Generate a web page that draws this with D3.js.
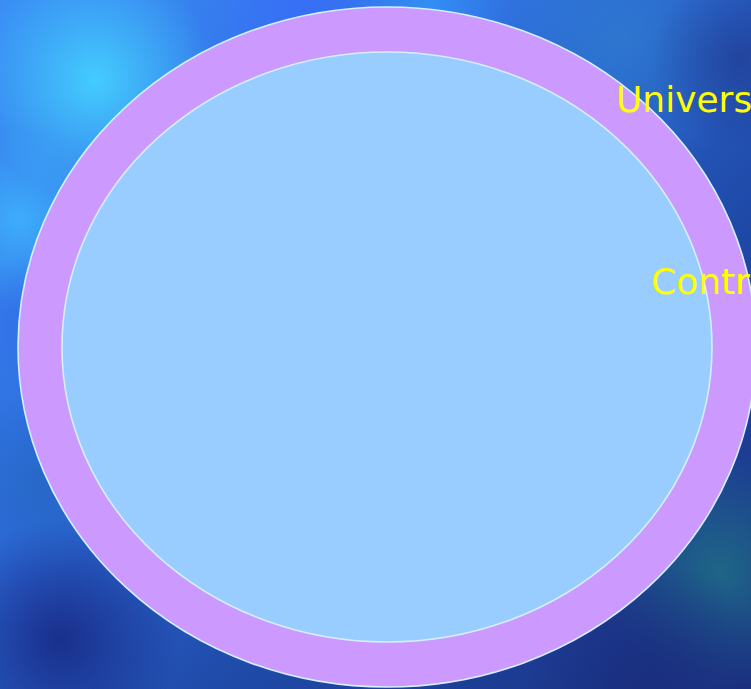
<!DOCTYPE html>
<html>
<head>
<meta charset="utf-8">
<script src="https://cdn.jsdelivr.net/npm/d3@7"></script>
<style>
html,body{margin:0;padding:0;overflow:hidden;background:#1e3a8a;}
svg{display:block;}
</style>
</head>
<body>
<script>
// Nested sets, outermost first
const labels = ["Universe", "Control"];
const levels = [0, 1];
const ringColors = ["#CC99FF", "#99CCFF"];

const W = 751, H = 689;
const svg = d3.select("body").append("svg").attr("width", W).attr("height", H);
const defs = svg.append("defs");

// background texture via layered radial gradients
defs.append("linearGradient").attr("id","bgBase").attr("x1","0").attr("y1","0").attr("x2","1").attr("y2","1")
  .selectAll("stop").data([["0","#3a8ef5"],["0.35","#2f6fe0"],["0.65","#1f4aa8"],["1","#1a2f80"]])
  .join("stop").attr("offset",d=>d[0]).attr("stop-color",d=>d[1]);
svg.append("rect").attr("width",W).attr("height",H).attr("fill","url(#bgBase)");

const blobs = [
  {id:"b1", cx:95, cy:80, r:120, c:"#45d0ff", o:0.95},
  {id:"b2", cx:20, cy:220, r:90, c:"#40b8ff", o:0.8},
  {id:"b3", cx:300, cy:10, r:120, c:"#3a66ff", o:0.6},
  {id:"b4", cx:430, cy:5, r:80, c:"#35a0ff", o:0.6},
  {id:"b5", cx:620, cy:40, r:140, c:"#2f7ed0", o:0.7},
  {id:"b6", cx:740, cy:60, r:90, c:"#213f96", o:0.8},
  {id:"b7", cx:720, cy:570, r:120, c:"#1f6e86", o:0.85},
  {id:"b8", cx:60, cy:640, r:120, c:"#182a86", o:0.9},
  {id:"b9", cx:40, cy:480, r:90, c:"#2266bb", o:0.6},
  {id:"b10", cx:650, cy:680, r:120, c:"#1a2e7e", o:0.9},
  {id:"b11", cx:50, cy:320, r:70, c:"#3366ee", o:0.6}
];
blobs.forEach(b=>{
  const g = defs.append("radialGradient").attr("id",b.id);
  g.append("stop").attr("offset","0").attr("stop-color",b.c).attr("stop-opacity",b.o);
  g.append("stop").attr("offset","1").attr("stop-color",b.c).attr("stop-opacity",0);
});
svg.append("g").selectAll("circle").data(blobs).join("circle")
  .attr("cx",d=>d.cx).attr("cy",d=>d.cy).attr("r",d=>d.r).attr("fill",d=>`url(#${d.id})`);

// ellipse size scales (level -> radius)
const rxScale = d3.scaleLinear().domain([0,1]).range([369,325]);
const ryScale = d3.scaleLinear().domain([0,1]).range([340,295]);
const cx = 387, cy = 347;

svg.append("g").selectAll("ellipse").data(levels).join("ellipse")
  .attr("cx",cx).attr("cy",cy)
  .attr("rx",d=>rxScale(d)).attr("ry",d=>ryScale(d))
  .attr("fill",(d,i)=>ringColors[i])
  .attr("stroke","#d4f0ff").attr("stroke-width",1.6);

const labelPos = [{x:616, y:112},{x:651, y:294}];
svg.append("g").selectAll("text").data(labels).join("text")
  .attr("x",(d,i)=>labelPos[i].x).attr("y",(d,i)=>labelPos[i].y)
  .attr("fill","#FFFF00")
  .attr("font-family","DejaVu Sans, sans-serif")
  .attr("font-size",36)
  .text(d=>d);
</script>
</body>
</html>
